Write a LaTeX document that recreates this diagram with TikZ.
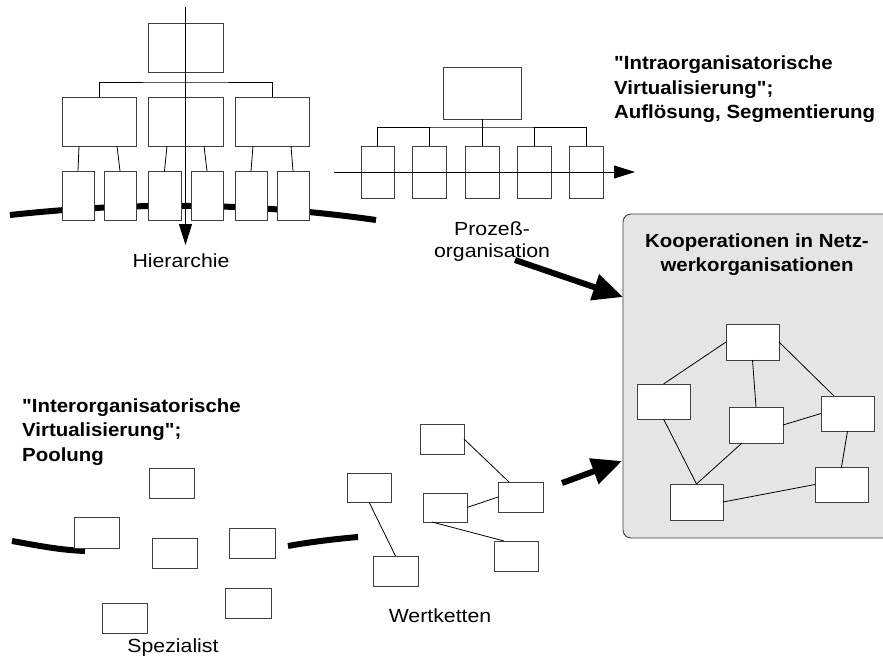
\documentclass[tikz,border=0pt]{standalone}
\usepackage{fontspec}
\usepackage{graphicx}
\setmainfont{Liberation Sans}[Ligatures=TeXOff]
\usetikzlibrary{arrows.meta}
\newcommand\hsc[1]{\scalebox{1.12}[1]{#1}}
\newcommand\hsb[1]{\scalebox{1.075}[1]{#1}}
\newcommand\qq{\symbol{34}}
\newcommand\bxn[5]{\node[bx, minimum width={#4-#2}, minimum height={#5-#3}] (#1) at ({(#2+#4)/2},{(#3+#5)/2}) {};}
\begin{document}
\begin{tikzpicture}[x=1pt,y=-1pt,
  bx/.style={draw=black!75, line width=0.9pt, fill=white, inner sep=0pt, outer sep=0pt},
  ln/.style={draw=black, line width=0.8pt},
  thk/.style={line width=6pt, line cap=butt},
  big/.style={line width=6pt, -{Triangle[length=30pt,width=26pt]}},
  thinarrow/.style={line width=0.9pt, -{Triangle[length=21pt,width=13pt]}},
  lbl/.style={inner sep=0pt, anchor=base, font=\fontsize{19}{22}\selectfont},
  ttl/.style={inner sep=0pt, font=\fontsize{19}{24.5}\selectfont\bfseries}]
\useasboundingbox (0,0) rectangle (883,671);
\fill[white] (0,0) rectangle (883,671);
\clip (0,0) rectangle (883,671);

% ---------- Hierarchie ----------
\draw[thk] (10,215) .. controls (130,202) and (250,202) .. (376,220);
\bxn{T}{148}{23}{223}{72}
\bxn{M1}{62}{97}{136}{146}
\bxn{M2}{148}{97}{223}{146}
\bxn{M3}{235}{97}{309}{146}
\bxn{S1}{62}{171}{94}{220}
\bxn{S2}{104}{171}{136}{220}
\bxn{S3}{148}{171}{181}{220}
\bxn{S4}{191}{171}{223}{220}
\bxn{S5}{235}{171}{267}{220}
\bxn{S6}{277}{171}{309}{220}
\coordinate (hj) at (185.5,82);
\draw[ln] (M1.north) |- (hj) -| (M3.north);
\draw[ln] (T.south) -- (M2.north);
\draw[ln] ([xshift=-20pt]M1.south) -- (S1.north);
\draw[ln] ([xshift=18pt]M1.south) -- (S2.north);
\draw[ln] ([xshift=-18.5pt]M2.south) -- (S3.north);
\draw[ln] ([xshift=18.5pt]M2.south) -- (S4.north);
\draw[ln] ([xshift=-19pt]M3.south) -- (S5.north);
\draw[ln] ([xshift=19pt]M3.south) -- (S6.north);
\coordinate (htop) at (185.5,7);
\coordinate (htip) at (185.5,245);
\draw[thinarrow] (htop) -- (htip);
\node[lbl] (hlab) at (181,267) {\hsc{Hierarchie}};

% ---------- Prozessorganisation ----------
\bxn{P}{443}{67}{521}{119}
\bxn{Q1}{361}{146}{394}{198}
\bxn{Q2}{412}{146}{446}{198}
\bxn{Q3}{465}{146}{499}{198}
\bxn{Q4}{517}{146}{551}{198}
\bxn{Q5}{569}{146}{603}{198}
\coordinate (pj) at (482,127);
\draw[ln] (P.south) -- (Q3.north);
\draw[ln] (Q1.north) |- (pj) -| (Q5.north);
\draw[ln] (Q2.north) -- (Q2.north |- pj);
\draw[ln] (Q4.north) -- (Q4.north |- pj);
\coordinate (pa) at (334,172);
\coordinate (pb) at (635,172);
\draw[thinarrow] (pa) -- (pb);
\node[lbl] (plab) at (492,235) {\hsc{\begin{tabular}[t]{@{}c@{}}Prozeß-\\organisation\end{tabular}}};

\node[ttl, anchor=base west] (intra) at (614,70) {\hsb{\begin{tabular}[t]{@{}l@{}}\qq Intraorganisatorische\\Virtualisierung\qq;\\Auflösung, Segmentierung\end{tabular}}};

% ---------- Netzwerk ----------
\draw[draw=black!75, line width=0.9pt, fill=black!10, rounded corners=8pt] (623,214) rectangle (900,538);
\node[ttl, anchor=base] (ktitle) at (757,247) {\hsb{\begin{tabular}[t]{@{}c@{}}Kooperationen in Netz-\\werkorganisationen\end{tabular}}};
\bxn{A}{726}{324}{779}{360}
\bxn{B}{637}{384}{690}{419}
\bxn{C}{729}{407}{783}{443}
\bxn{D}{821}{396}{874}{431}
\bxn{E}{670}{484}{723}{520}
\bxn{F}{815}{467}{868}{502}
\draw[ln] (A.west) -- (B.north);
\draw[ln] (A.south) -- (C.north);
\draw[ln] (A.east) -- ([xshift=-13.5pt]D.north);
\draw[ln] (B.south) -- (E.north);
\draw[ln] ([xshift=-14pt]C.south) -- (E.north);
\draw[ln] (C.east) -- (D.west);
\draw[ln] (D.south) -- (F.north);
\draw[ln] (E.east) -- (F.west);

\coordinate (a1s) at (515,260);
\coordinate (a1e) at (623,297);
\draw[big] (a1s) -- (a1e);
\coordinate (a2s) at (562,483);
\coordinate (a2e) at (622,461);
\draw[big] (a2s) -- (a2e);

% ---------- Interorganisatorisch ----------
\node[ttl, anchor=base west] (inter) at (22,412) {\hsb{\begin{tabular}[t]{@{}l@{}}\qq Interorganisatorische\\Virtualisierung\qq;\\Poolung\end{tabular}}};
\draw[thk] (12,541) .. controls (40,546) and (60,550) .. (85,551);
\draw[thk] (288,546) .. controls (310,542) and (335,539) .. (358,537);
\bxn{L1}{149}{468}{194}{498}
\bxn{L2}{74}{517}{119}{548}
\bxn{L3}{152}{538}{197}{568}
\bxn{L4}{229}{528}{275}{558}
\bxn{L5}{102}{603}{147}{633}
\bxn{L6}{225}{588}{271}{618}
\node[lbl] (slab) at (173,652) {\hsc{Spezialist}};

% ---------- Wertketten ----------
\bxn{W1}{347}{473}{391}{502}
\bxn{W2}{373}{556}{418}{586}
\bxn{W3}{420}{424}{464}{454}
\bxn{W4}{423}{493}{467}{522}
\bxn{W5}{498}{482}{543}{512}
\bxn{W6}{494}{541}{538}{571}
\draw[ln] (W1.south) -- (W2.north);
\draw[ln] (W3.east) -- ([xshift=-11.5pt]W5.north);
\draw[ln] (W4.east) -- (W5.west);
\draw[ln] ([xshift=-13pt]W4.south) -- ([xshift=-12pt]W6.north);
\node[lbl] (wlab) at (440,622) {\hsc{Wertketten}};
\end{tikzpicture}
\end{document}
